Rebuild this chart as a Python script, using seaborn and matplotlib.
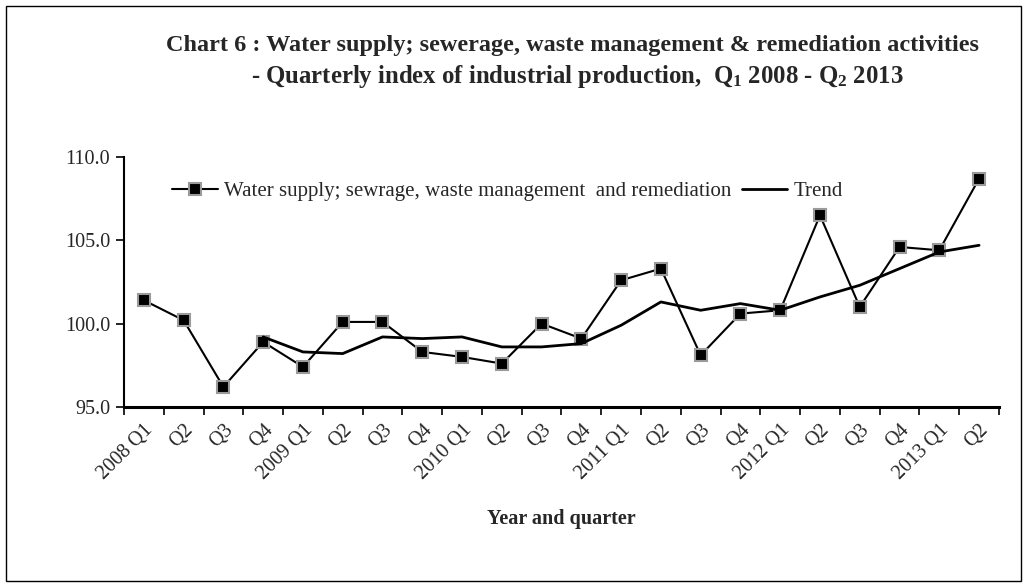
import matplotlib
matplotlib.use("Agg")
import matplotlib.pyplot as plt
from matplotlib.patches import Rectangle
import seaborn as sns
import pandas as pd
import numpy as np

quarters = ["2008 Q1", "Q2", "Q3", "Q4",
            "2009 Q1", "Q2", "Q3", "Q4",
            "2010 Q1", "Q2", "Q3", "Q4",
            "2011 Q1", "Q2", "Q3", "Q4",
            "2012 Q1", "Q2", "Q3", "Q4",
            "2013 Q1", "Q2"]
water = [101.4, 100.2, 96.2, 98.9, 97.4, 100.1, 100.1, 98.3, 98.0, 97.6, 100.0,
         99.1, 102.6, 103.3, 98.1, 100.6, 100.8, 106.5, 101.0, 104.6, 104.4, 108.7]
# trend starts at 2008 Q4
trend = [99.2, 98.3, 98.2, 99.2, 99.1, 99.2, 98.6, 98.6, 98.8, 99.9, 101.3,
         100.8, 101.2, 100.8, 101.6, 102.3, 103.3, 104.3, 104.7]
trend_start = 3

series_label = "Water supply; sewrage, waste management  and remediation"
trend_label = "Trend"

sns.set_style("white")
plt.rcParams['font.family'] = ['Liberation Serif', 'DejaVu Serif']
plt.rcParams['mathtext.fontset'] = 'custom'
plt.rcParams['mathtext.rm'] = 'Liberation Serif:bold'
plt.rcParams['mathtext.bf'] = 'Liberation Serif:bold'
plt.rcParams['mathtext.default'] = 'bf'

pos = np.arange(len(quarters)) + 0.5
df_w = pd.DataFrame({"x": pos, "y": water})
df_t = pd.DataFrame({"x": pos[trend_start:trend_start + len(trend)], "y": trend})

fig = plt.figure(figsize=(10.27, 5.88), dpi=100)
ax = fig.add_axes([0.1207, 0.308, 0.852, 0.425])

sns.lineplot(data=df_w, x="x", y="y", ax=ax, color="black", linewidth=1.5,
             marker="s", markersize=9, markerfacecolor="black",
             markeredgecolor="#9a9a9a", markeredgewidth=1.5, label=series_label)
sns.lineplot(data=df_t, x="x", y="y", ax=ax, color="black", linewidth=2.0,
             label=trend_label)

ax.set_xlim(0, len(quarters))
ax.set_ylim(95, 110)
ax.set_yticks([95, 100, 105, 110])
ax.set_yticklabels([f"{v:.1f}" for v in [95, 100, 105, 110]], fontsize=14.5)
ax.set_xticks(np.arange(len(quarters) + 1))
ax.set_xticklabels([])
ax.set_xticks(pos, minor=True)
ax.set_xticklabels(quarters, minor=True, rotation=45, ha="right",
                   rotation_mode="anchor", fontsize=14.5)
ax.tick_params(axis="x", which="major", direction="out", length=6, width=1.2,
               bottom=True, color="black")
ax.tick_params(axis="x", which="minor", length=0, pad=10)
ax.tick_params(axis="y", direction="out", length=6, width=1.2, left=True,
               color="black", pad=4)
ax.set_xlabel("Year and quarter", fontsize=14.5, fontweight="bold", labelpad=18)
ax.set_ylabel("")
for s in ["top", "right"]:
    ax.spines[s].set_visible(False)
ax.spines["left"].set_linewidth(1.5)
ax.spines["bottom"].set_linewidth(2.2)
ax.spines["left"].set_color("black")
ax.spines["bottom"].set_color("black")

leg = ax.legend(loc="upper left", bbox_to_anchor=(0.045, 0.935), ncol=2, frameon=False,
                fontsize=15, handlelength=2.2, handletextpad=0.3, columnspacing=0.5,
                borderaxespad=0)

fig.text(0.557, 0.922, "Chart 6 : Water supply; sewerage, waste management & remediation activities",
         ha="center", va="center", fontsize=17.5, fontweight="bold")
fig.text(0.562, 0.870, r"- Quarterly index of industrial production,  Q$_1$ 2008 - Q$_2$ 2013",
         ha="center", va="center", fontsize=17.8, fontweight="bold")

fig.patches.append(Rectangle((0.006, 0.012), 0.988, 0.978, transform=fig.transFigure,
                             fill=False, edgecolor="black", linewidth=1.0))

fig.savefig("out.png", dpi=100)
